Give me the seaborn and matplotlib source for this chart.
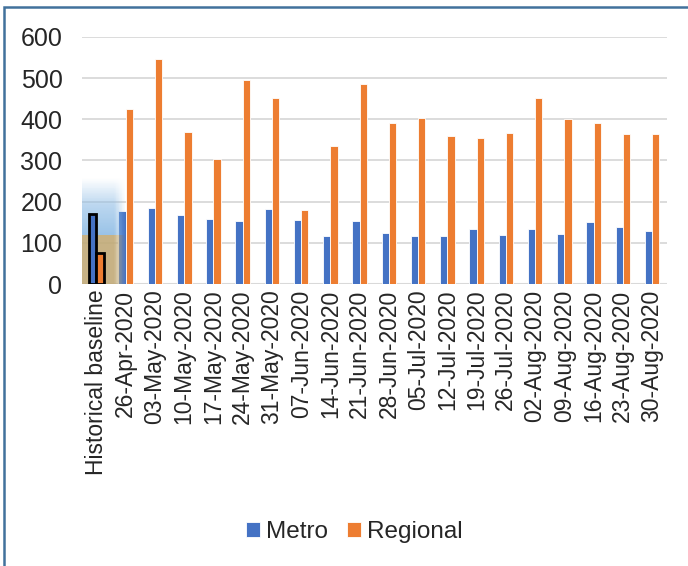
import numpy as np
import pandas as pd
import seaborn as sns
import matplotlib.pyplot as plt
from matplotlib.patches import Rectangle

# weekly counts
weeks = ["Historical baseline", "26-Apr-2020", "03-May-2020", "10-May-2020",
         "17-May-2020", "24-May-2020", "31-May-2020", "07-Jun-2020",
         "14-Jun-2020", "21-Jun-2020", "28-Jun-2020", "05-Jul-2020",
         "12-Jul-2020", "19-Jul-2020", "26-Jul-2020", "02-Aug-2020",
         "09-Aug-2020", "16-Aug-2020", "23-Aug-2020", "30-Aug-2020"]
metro = [171, 177, 185, 167, 158, 152, 182, 155, 117, 152, 124, 116,
         117, 134, 118, 134, 121, 150, 138, 129]
regional = [75, 426, 546, 370, 303, 495, 451, 180, 335, 485, 390, 403,
            359, 354, 366, 451, 401, 391, 364, 363]
series = ["Metro", "Regional"]
colors = ["#4472C4", "#ED7D31"]

df = pd.DataFrame({"week": weeks * 2,
                   "count": metro + regional,
                   "series": ["Metro"] * len(weeks) + ["Regional"] * len(weeks)})

sns.set_theme(style="white")
plt.rcParams['font.family'] = ['Liberation Sans', 'DejaVu Sans']

fig = plt.figure(figsize=(6.88, 5.66), dpi=100)
ax = fig.add_axes([0.119, 0.498, 0.85, 0.437])

sns.barplot(data=df, x="week", y="count", hue="series", order=weeks,
            hue_order=series, palette=colors, saturation=1, width=0.5,
            edgecolor="white", linewidth=0.6, ax=ax, zorder=2)

# baseline bars are outlined in black, drawn over the highlight
for cont in ax.containers:
    cont[0].set_edgecolor("black")
    cont[0].set_linewidth(2)
    cont[0].set_zorder(4)

# soft highlight around the baseline group
ny, nx = 130, 60
ys = np.linspace(0, 260, ny)[:, None]
xs = np.linspace(-0.5, 1.0, nx)[None, :]
rgba = np.zeros((ny, nx, 4))
blue = np.array([0.56, 0.74, 0.90])
tan = np.array([0.76, 0.67, 0.47])
is_tan = (ys < 118).astype(float)
for k in range(3):
    rgba[..., k] = is_tan * tan[k] + (1 - is_tan) * blue[k]
a_blue = np.interp(ys, [118, 190, 255], [0.9, 0.6, 0.0])
a_y = np.where(ys < 118, 0.9, a_blue)
a_x = np.clip((1.0 - xs) / 0.4, 0, 1)
rgba[..., 3] = a_y * a_x
ax.imshow(rgba, origin="lower", aspect="auto", extent=(-0.5, 1.0, 0, 260),
          zorder=3, interpolation="nearest")

ax.set_xlim(-0.5, len(weeks) - 0.5)
ax.set_ylim(0, 600)
ax.set_yticks(range(0, 601, 100))
ax.grid(axis="y", color="#D9D9D9", linewidth=1.3)
ax.set_axisbelow(True)
ax.axhline(0, color="#D9D9D9", linewidth=1.5, zorder=1)
sns.despine(ax=ax, left=True, bottom=True)
ax.tick_params(axis="y", labelsize=18, length=0, pad=14)
ax.tick_params(axis="x", labelsize=16.5, length=0, pad=4, rotation=90)
ax.set_xlabel("")
ax.set_ylabel("")

ax.legend(loc="center", bbox_to_anchor=(0.515, 0.06),
          bbox_transform=fig.transFigure, ncol=2, frameon=False,
          fontsize=17.5, handlelength=0.6, handleheight=0.6,
          handletextpad=0.25, columnspacing=0.75)

# outer chart frame (cut off on the right and bottom)
fig.patches.append(Rectangle((0.006, -0.1), 1.2, 1.0876, transform=fig.transFigure,
                             fill=False, edgecolor="#41719C", linewidth=1.8))

plt.savefig("out.png", dpi=100)
plt.close(fig)
